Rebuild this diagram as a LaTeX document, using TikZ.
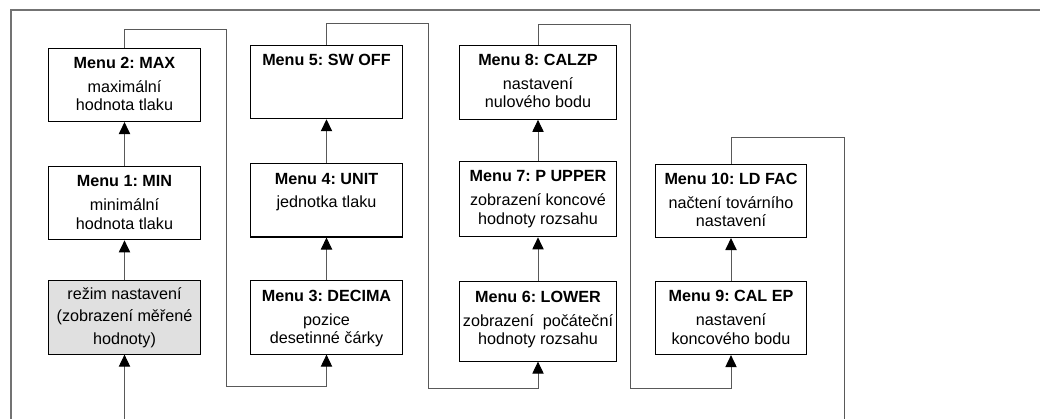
\documentclass[tikz,border=0pt]{standalone}
\usepackage{fontspec}
\setmainfont{Liberation Sans}
\usetikzlibrary{positioning,arrows.meta}
\frenchspacing

\newcommand{\menutext}[3][1.83cm]{\parbox[c][#1][t]{3.7cm}{\centering\vspace*{6.5pt}\textbf{#2}\par\vspace{4pt}#3}}

\begin{document}
\begin{tikzpicture}[x=0.025cm,y=-0.025cm,
		menubox/.style={draw,line width=0.75pt,inner sep=0pt,minimum width=3.78cm},
		modebox/.style={draw,line width=0.75pt,fill=black!12,align=center,minimum width=3.78cm,minimum height=1.83cm},
		conn/.style={draw=black!65,line width=0.7pt},
		arr/.style={conn,-{Triangle[length=8.5pt,width=8pt,color=black]}},
		frame/.style={draw=black!55,line width=1.1pt},
		font=\fontsize{11.5}{13}\selectfont]
		\useasboundingbox (0,0) rectangle (1040,419);
		\draw[frame] (11,419) |- (1040,10);

		% column 1
		\node(mode) [modebox] at (124.5,317.5) {režim nastavení\\[3pt](zobrazení měřené\\[3pt]hodnoty)};
		\node(m1) [menubox,above=1.0cm of mode] {\menutext{Menu 1: MIN}{minimální\\hodnota tlaku}};
		\node(m2) [menubox,above=1.1cm of m1] {\menutext{Menu 2: MAX}{maximální\\hodnota tlaku}};

		% column 2
		\node(m3) [menubox] at (326.5,317.5) {\menutext{Menu 3: DECIMA}{pozice\\desetinné čárky}};
		\node(m4) [menubox,above=1.07cm of m3] {\menutext{Menu 4: UNIT}{jednotka tlaku}};
		\node(m5) [menubox,above=1.1cm of m4] {\menutext{Menu 5: SW OFF}{}};

		% column 3
		\node(m6) [menubox,minimum width=3.93cm] at (538,321.5) {\menutext[1.98cm]{Menu 6: LOWER}{\makebox[0pt]{zobrazení \ počáteční}\\hodnoty rozsahu}};
		\node(m7) [menubox,minimum width=3.93cm,above=1.1cm of m6] {\menutext[1.88cm]{Menu 7: P UPPER}{zobrazení koncové\\hodnoty rozsahu}};
		\node(m8) [menubox,minimum width=3.93cm,above=1.03cm of m7] {\menutext[1.85cm]{Menu 8: CALZP}{nastavení\\nulového bodu}};

		% column 4
		\node(m9) [menubox] at (731,318) {\menutext{Menu 9: CAL EP}{nastavení\\koncového bodu}};
		\node(m10) [menubox,above=1.07cm of m9] {\menutext{Menu 10: LD FAC}{načtení továrního\\nastavení}};

		% connectors
		\coordinate (in) at (124.5,419);
		\draw[arr] (in) -- (mode);
		\draw[arr] (mode) -- (m1);
		\draw[arr] (m1) -- (m2);
		\draw[arr] (m3) -- (m4);
		\draw[arr] (m4) -- (m5);
		\draw[arr] (m6) -- (m7);
		\draw[arr] (m7) -- (m8);
		\draw[arr] (m9) -- (m10);

		\coordinate (t1) at (226,29); \coordinate (b1) at (226,386);
		\draw[arr] (m2.north) |- (t1) -- (b1) -| (m3.south);
		\coordinate (t2) at (428,23); \coordinate (b2) at (428,388);
		\draw[arr] (m5.north) |- (t2) -- (b2) -| (m6.south);
		\coordinate (t3) at (630,24); \coordinate (b3) at (630,388);
		\draw[arr] (m8.north) |- (t3) -- (b3) -| (m9.south);
		\coordinate (t4) at (844,137); \coordinate (out) at (844,419);
		\draw[conn] (m10.north) |- (t4) -- (out);
	\end{tikzpicture}
\end{document}
